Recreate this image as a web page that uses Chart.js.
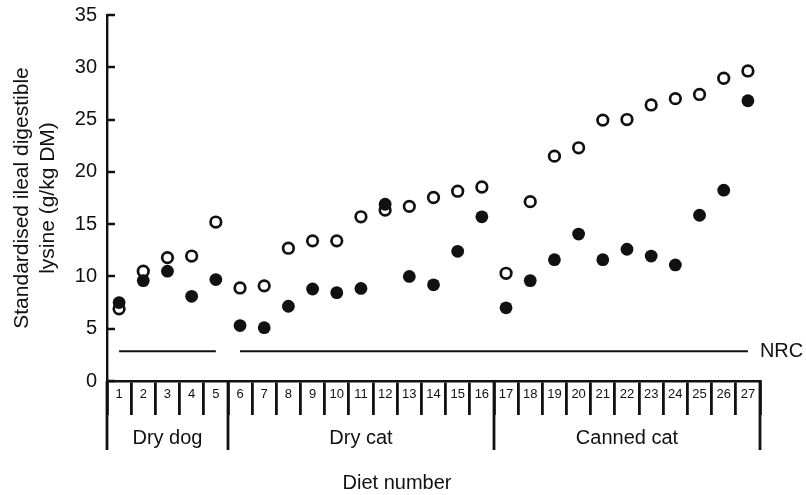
<!DOCTYPE html>
<html>
<head>
<meta charset="utf-8">
<script src="https://cdn.jsdelivr.net/npm/chart.js@4.4.1/dist/chart.umd.min.js"></script>
<style>
  html, body { margin: 0; padding: 0; background: #fff; }
</style>
</head>
<body>
<canvas id="lysineChart" width="806" height="495"></canvas>
<script>
// Diet numbers and groups
const diets = ["1","2","3","4","5","6","7","8","9","10","11","12","13","14","15","16","17","18","19","20","21","22","23","24","25","26","27"];
const groupNames = ["Dry dog", "Dry cat", "Canned cat"];
const groupEnds = [5, 16, 27]; // last diet of each group

// Filled circles
const filledValues = [7.5, 9.6, 10.5, 8.1, 9.7, 5.3, 5.1, 7.15, 8.8, 8.45, 8.85, 16.9, 10.0, 9.2, 12.4, 15.7, 7.0, 9.6, 11.6, 14.05, 11.6, 12.6, 11.95, 11.1, 15.85, 18.25, 26.8];
// Open circles
const openValues = [6.9, 10.5, 11.8, 11.95, 15.2, 8.9, 9.1, 12.7, 13.4, 13.4, 15.7, 16.35, 16.7, 17.55, 18.15, 18.55, 10.3, 17.15, 21.5, 22.3, 24.95, 25.0, 26.4, 27.0, 27.4, 28.95, 29.65];

// NRC requirement lines
const nrcDog = [2.85, 2.85, 2.85, 2.85, 2.85, null, null, null, null, null, null, null, null, null, null, null, null, null, null, null, null, null, null, null, null, null, null];
const nrcCat = [null, null, null, null, null, 2.85, 2.85, 2.85, 2.85, 2.85, 2.85, 2.85, 2.85, 2.85, 2.85, 2.85, 2.85, 2.85, 2.85, 2.85, 2.85, 2.85, 2.85, 2.85, 2.85, 2.85, 2.85];

const yTicks = [0, 5, 10, 15, 20, 25, 30, 35];

const ink = "#111";
const fontFamily = "'Liberation Sans', Arial, Helvetica, sans-serif";

// Draws inner y ticks, group separators, group names, x title and the NRC label
const bottomPlugin = {
  id: "bottomPlugin",
  afterDraw(chart) {
    const ctx = chart.ctx;
    const x = chart.scales.x;
    const y = chart.scales.y;
    ctx.save();
    ctx.strokeStyle = ink;

    // short ticks pointing into the plot
    ctx.lineWidth = 2.5;
    yTicks.forEach(v => {
      const py = Math.round(y.getPixelForValue(v));
      ctx.beginPath();
      ctx.moveTo(y.right, py);
      ctx.lineTo(y.right + 8, py);
      ctx.stroke();
    });

    ctx.lineWidth = 2.8;
    const bounds = [0].concat(groupEnds);
    bounds.forEach(b => {
      const px = Math.round(x.getPixelForValue(b - 0.5));
      ctx.beginPath();
      ctx.moveTo(px, x.top);
      ctx.lineTo(px, x.top + 69);
      ctx.stroke();
    });

    ctx.fillStyle = ink;
    ctx.font = "20px " + fontFamily;
    ctx.textAlign = "center";
    ctx.textBaseline = "middle";
    let start = 0;
    groupEnds.forEach((end, i) => {
      const mid = (start + end - 1) / 2;
      ctx.fillText(groupNames[i], x.getPixelForValue(mid), x.top + 57);
      start = end;
    });

    ctx.fillText("Diet number", 397, x.top + 102);

    ctx.textAlign = "left";
    const last = nrcCat.length - 1;
    ctx.fillText("NRC", x.getPixelForValue(last) + 12, y.getPixelForValue(nrcCat[last]));
    ctx.restore();
  }
};

new Chart(document.getElementById("lysineChart"), {
  type: "line",
  data: {
    labels: diets,
    datasets: [
      {
        label: "Filled",
        data: filledValues,
        showLine: false,
        pointStyle: "circle",
        pointRadius: 6.4,
        pointBackgroundColor: ink,
        pointBorderColor: ink,
        pointBorderWidth: 0
      },
      {
        label: "Open",
        data: openValues,
        showLine: false,
        pointStyle: "circle",
        pointRadius: 5.3,
        pointBackgroundColor: "#fff",
        pointBorderColor: ink,
        pointBorderWidth: 2.7
      },
      {
        label: "NRC dog",
        data: nrcDog,
        borderColor: ink,
        borderWidth: 2,
        pointRadius: 0,
        spanGaps: false
      },
      {
        label: "NRC cat",
        data: nrcCat,
        borderColor: ink,
        borderWidth: 2,
        pointRadius: 0,
        spanGaps: false
      }
    ]
  },
  options: {
    responsive: false,
    animation: false,
    devicePixelRatio: 1,
    layout: { padding: { top: 15, right: 46, left: 0, bottom: 0 } },
    plugins: {
      legend: { display: false },
      tooltip: { enabled: false }
    },
    scales: {
      x: {
        type: "category",
        offset: true,
        grid: {
          offset: true,
          drawOnChartArea: false,
          drawTicks: true,
          tickLength: 34,
          color: ink,
          lineWidth: 2.8
        },
        border: { display: true, color: ink, width: 2.4 },
        ticks: {
          autoSkip: false,
          maxRotation: 0,
          padding: -28,
          color: ink,
          font: { family: fontFamily, size: 13 }
        },
        afterFit(scale) {
          scale.height = 114;
          scale.paddingLeft = 0;
          scale.paddingRight = 0;
        }
      },
      y: {
        min: 0,
        max: 35,
        grid: {
          drawOnChartArea: false,
          drawTicks: false
        },
        border: { display: true, color: ink, width: 2.4 },
        afterBuildTicks(scale) {
          scale.ticks = yTicks.map(v => ({ value: v }));
        },
        ticks: {
          padding: 10,
          color: ink,
          font: { family: fontFamily, size: 20 }
        },
        title: {
          display: true,
          text: ["Standardised ileal digestible", "lysine (g/kg DM)"],
          color: ink,
          font: { family: fontFamily, size: 21, lineHeight: 1.24 },
          padding: { top: 9, bottom: 0 }
        },
        afterFit(scale) {
          scale.width = 107;
          scale.paddingTop = 0;
          scale.paddingBottom = 0;
        }
      }
    }
  },
  plugins: [bottomPlugin]
});
</script>
</body>
</html>
